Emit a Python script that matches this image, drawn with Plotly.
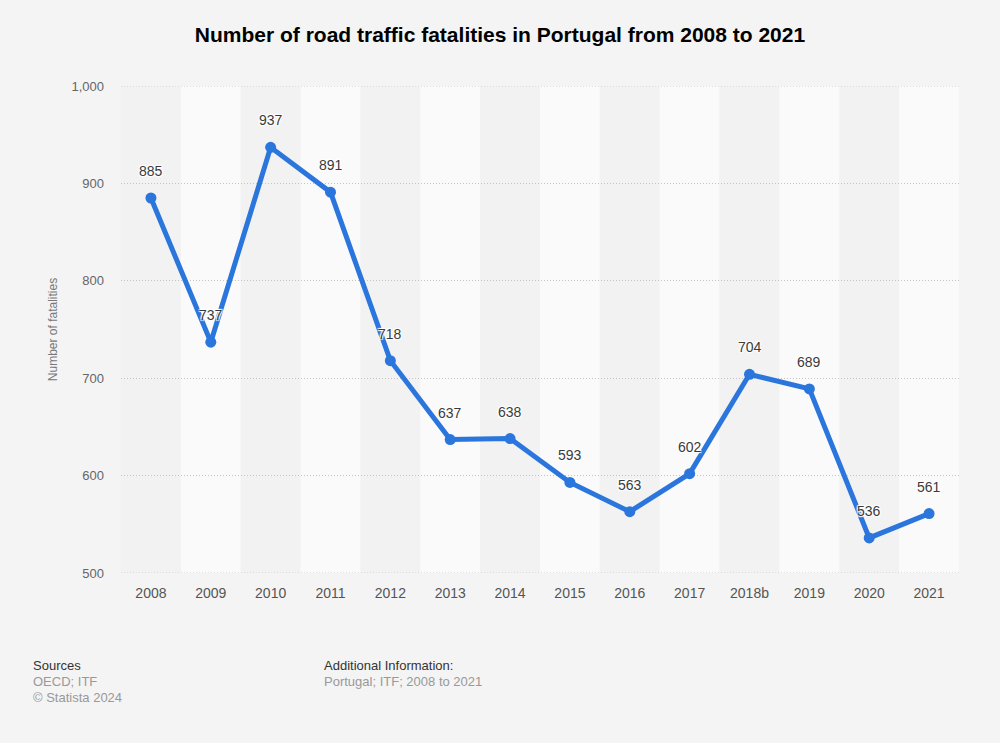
import plotly.graph_objects as go

years = ["2008", "2009", "2010", "2011", "2012", "2013", "2014", "2015", "2016", "2017", "2018b", "2019", "2020", "2021"]
fatalities = [885, 737, 937, 891, 718, 637, 638, 593, 563, 602, 704, 689, 536, 561]
y_ticks = [500, 600, 700, 800, 900, 1000]
y_tick_labels = ["500", "600", "700", "800", "900", "1,000"]

line_color = "#2a76dd"
font_family = "Liberation Sans, Arial, sans-serif"
grid_dash = "1px,2px"

W, H = 1000, 743
l, r, t, b = 121, 41, 86, 170
pw, ph = W - l - r, H - t - b

fig = go.Figure()
fig.add_trace(go.Scatter(
    x=list(range(len(years))), y=fatalities, mode="lines+markers",
    line=dict(color=line_color, width=5),
    marker=dict(color=line_color, size=11),
    hoverinfo="y", showlegend=False,
))

shapes = []
for i, _ in enumerate(years):
    shapes.append(dict(
        type="rect", xref="x", yref="paper",
        x0=i - 0.5, x1=i + 0.5, y0=0, y1=1,
        fillcolor="#fafafa" if i % 2 == 1 else "#f2f2f2",
        line=dict(width=0), layer="below",
    ))
# edge gridlines (Plotly drops gridlines that sit on the plot edges)
for yv in (y_ticks[0], y_ticks[-1]):
    shapes.append(dict(
        type="line", xref="paper", yref="y", x0=0, x1=1, y0=yv, y1=yv,
        line=dict(color="#c4c4c4", width=1, dash=grid_dash), layer="below",
    ))

halo = "1px 1px 1px #ffffff, -1px -1px 1px #ffffff, 1px -1px 1px #ffffff, -1px 1px 1px #ffffff"
annotations = []
for i, v in enumerate(fatalities):
    annotations.append(dict(
        x=i, y=v, xref="x", yref="y", text=str(v), showarrow=False,
        yshift=27, font=dict(size=14, color="#3a3a3a", family=font_family, shadow=halo),
    ))

footer = [
    (31, 665, "Sources", "#333333"),
    (31, 681, "OECD; ITF", "#999999"),
    (31, 697, "© Statista 2024", "#999999"),
    (322, 665, "Additional Information:", "#333333"),
    (322, 681, "Portugal; ITF; 2008 to 2021", "#999999"),
]
for fx, fy, txt, col in footer:
    annotations.append(dict(
        x=(fx - l) / pw, y=1 - (fy - t) / ph, xref="paper", yref="paper",
        xanchor="left", yanchor="middle", text=txt, showarrow=False,
        font=dict(size=13, color=col, family=font_family),
    ))

fig.update_layout(
    width=W, height=H,
    paper_bgcolor="#f4f4f4", plot_bgcolor="#f4f4f4",
    margin=dict(l=l, r=r, t=t, b=b),
    title=dict(
        text="<b>Number of road traffic fatalities in Portugal from 2008 to 2021</b>",
        x=0.5, xanchor="center", y=1 - 35 / H, yanchor="middle",
        font=dict(size=21, color="#000000", family=font_family),
    ),
    font=dict(family=font_family, color="#666666", size=13),
    shapes=shapes,
    annotations=annotations,
    xaxis=dict(
        range=[-0.5, len(years) - 0.5],
        tickvals=list(range(len(years))), ticktext=years,
        showgrid=False, zeroline=False, showline=False,
        ticks="", ticklabelstandoff=10,
        tickfont=dict(size=14, color="#555555"),
    ),
    yaxis=dict(
        range=[500, 1000], tickvals=y_ticks, ticktext=y_tick_labels,
        showgrid=True, gridcolor="#c4c4c4", griddash=grid_dash, gridwidth=1,
        zeroline=False, showline=False, ticks="",
        ticklabelstandoff=16,
        tickfont=dict(size=13, color="#666666"),
        title=dict(text="Number of fatalities", standoff=11,
                   font=dict(size=12, color="#777777")),
    ),
)

fig.write_html("out.html", config={"displayModeBar": False})

with open("out.html", "r", encoding="utf-8") as f:
    html = f.read()
html = html.replace("<head>", "<head><style>html,body{margin:0;padding:0;background:#f4f4f4;}</style>", 1)
with open("out.html", "w", encoding="utf-8") as f:
    f.write(html)
